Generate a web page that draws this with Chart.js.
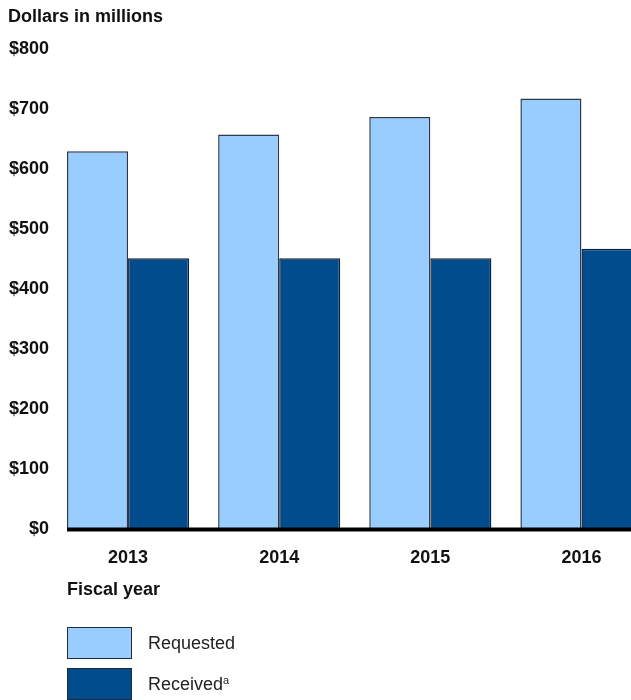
<!DOCTYPE html>
<html>
<head>
<meta charset="utf-8">
<script src="https://cdn.jsdelivr.net/npm/chart.js@4/dist/chart.umd.min.js"></script>
<style>
  html, body { margin: 0; padding: 0; overflow: hidden; background: #fff; }
  #wrap { position: relative; width: 657px; height: 700px; font-family: "Liberation Sans", Arial, sans-serif; }
  #fiscal { position: absolute; left: 67px; top: 579px; font-size: 18px; font-weight: bold; color: #111; }
  .leg { position: absolute; left: 67px; height: 32px; display: flex; align-items: center; font-size: 18px; color: #222; }
  .leg span.box { width: 63px; height: 30px; border: 1px solid #1c2c3c; margin-right: 16px; }
  .leg sup { font-size: 11px; vertical-align: 6px; line-height: 0; }
</style>
</head>
<body>
<div id="wrap">
  <canvas id="myChart" width="657" height="700"></canvas>
  <div id="fiscal">Fiscal year</div>
  <div class="leg" style="top:627px"><span class="box" style="background:#99ccff"></span><span>Requested</span></div>
  <div class="leg" style="top:668px"><span class="box" style="background:#004c8c"></span><span>Received<sup>a</sup></span></div>
</div>
<script>
const years = ['2013', '2014', '2015', '2016'];
const requested = [629, 657, 686, 717];
const received = [451, 451, 451, 467];
const yTicks = [0, 100, 200, 300, 400, 500, 600, 700, 800];

const baseline = {
    id: 'baseline',
    afterDatasetsDraw(chart) {
        const ctx = chart.ctx;
        const y = chart.scales.y.getPixelForValue(0);
        const first = chart.getDatasetMeta(0).data[0];
        ctx.save();
        ctx.strokeStyle = '#000';
        ctx.lineWidth = 4;
        ctx.beginPath();
        ctx.moveTo(first.x - first.width / 2, y);
        ctx.lineTo(chart.chartArea.right, y);
        ctx.stroke();
        ctx.restore();
    }
};

const boldFont = { family: '"Liberation Sans", Arial, sans-serif', size: 18, weight: 'bold' };

new Chart(document.getElementById('myChart').getContext('2d'), {
    type: 'bar',
    data: {
        labels: years,
        datasets: [
            {
                label: 'Requested',
                data: requested,
                backgroundColor: '#99ccff',
                borderColor: '#2a3a4a',
                borderWidth: 1.5,
                borderSkipped: 'bottom'
            },
            {
                label: 'Received',
                data: received,
                backgroundColor: '#004c8c',
                borderColor: '#0d2238',
                borderWidth: 1.5,
                borderSkipped: 'bottom'
            }
        ]
    },
    options: {
        responsive: false,
        animation: false,
        layout: { padding: { left: 8, right: 0, top: 0, bottom: 113 } },
        categoryPercentage: 0.808,
        barPercentage: 1,
        plugins: {
            legend: { display: false },
            tooltip: { enabled: false },
            title: {
                display: true,
                text: 'Dollars in millions',
                align: 'start',
                color: '#111',
                font: boldFont,
                padding: { top: 6, bottom: 21 }
            }
        },
        scales: {
            x: {
                grid: { display: false, drawTicks: false },
                border: { display: false },
                ticks: { color: '#111', font: boldFont, padding: 18 }
            },
            y: {
                min: 0,
                max: 800,
                afterFit(scale) { scale.width = 44.5; },
                afterBuildTicks(scale) { scale.ticks = yTicks.map(v => ({ value: v })); },
                grid: { display: false, drawTicks: false },
                border: { display: false },
                ticks: {
                    color: '#111',
                    font: boldFont,
                    padding: 3.5,
                    callback: v => '$' + v
                }
            }
        }
    },
    plugins: [baseline]
});
</script>
</body>
</html>
